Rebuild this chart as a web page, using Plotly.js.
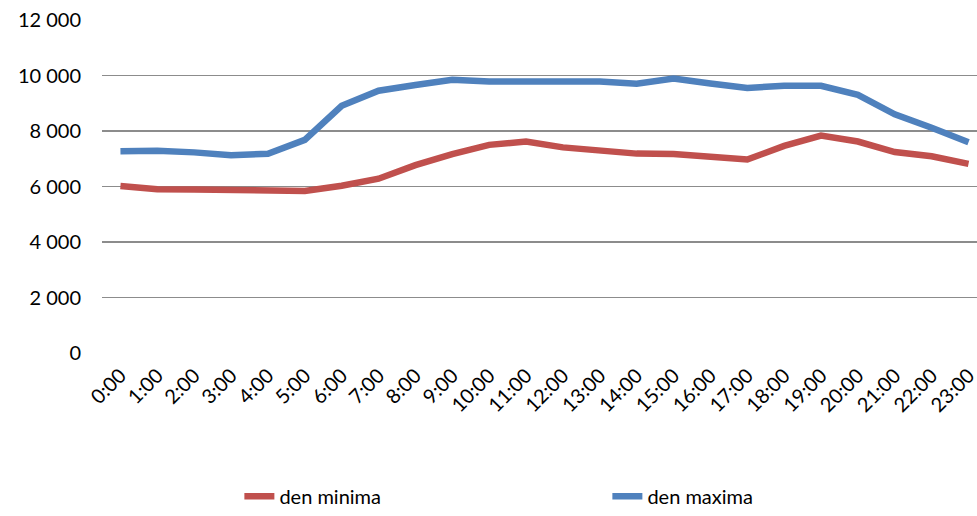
<!DOCTYPE html>
<html>
<head>
<meta charset="utf-8">
<script src="https://cdn.plot.ly/plotly-3.0.1.min.js"></script>
<style>html,body{margin:0;padding:0;background:#fff;}#chart{width:977px;height:516px;}</style>
</head>
<body>
<div id="chart"></div>
<script>
const hours = ["0:00","1:00","2:00","3:00","4:00","5:00","6:00","7:00","8:00","9:00","10:00","11:00","12:00","13:00","14:00","15:00","16:00","17:00","18:00","19:00","20:00","21:00","22:00","23:00"];
const denMinima = [6020,5905,5893,5875,5850,5840,6030,6280,6770,7170,7500,7620,7410,7280,7185,7170,7090,6970,7465,7835,7620,7240,7090,6815];
const denMaxima = [7270,7290,7230,7125,7180,7680,8910,9450,9655,9845,9785,9785,9833,9785,9700,9890,9715,9550,9630,9630,9300,8600,8118,7597];
const yTicks = [0,2000,4000,6000,8000,10000,12000];

const traces = [
  {x: hours, y: denMinima, name: "den minima", type: "scatter", mode: "lines",
   line: {color: "#C0504D", width: 6.5}},
  {x: hours, y: denMaxima, name: "den maxima", type: "scatter", mode: "lines",
   line: {color: "#4F81BD", width: 6.5}}
];

const layout = {
  width: 977, height: 516,
  margin: {l: 102, r: 0, t: 20, b: 158},
  paper_bgcolor: "#fff", plot_bgcolor: "#fff",
  separators: ", ",
  font: {family: "Lato, 'Open Sans', sans-serif", size: 20, color: "#000"},
  showlegend: true,
  legend: {orientation: "h", x: 0.157, xanchor: "left", y: -0.43, yanchor: "middle",
           entrywidth: 323, entrywidthmode: "pixels", font: {size: 20}, itemwidth: 30},
  xaxis: {type: "category", range: [-0.5, 23.23], tickangle: -45, showgrid: false,
          zeroline: false, showline: false, ticks: "", tickfont: {size: 20},
          ticklabelstandoff: 6, fixedrange: true},
  yaxis: {range: [0, 12000], tickvals: yTicks, tickformat: ",", showgrid: true,
          gridcolor: "#8c8c8c", gridwidth: 1.6, zeroline: false, showline: false,
          ticks: "", ticklabelstandoff: 20, tickfont: {size: 20}, fixedrange: true}
};

Plotly.newPlot("chart", traces, layout, {displayModeBar: false, staticPlot: true});
</script>
</body>
</html>
